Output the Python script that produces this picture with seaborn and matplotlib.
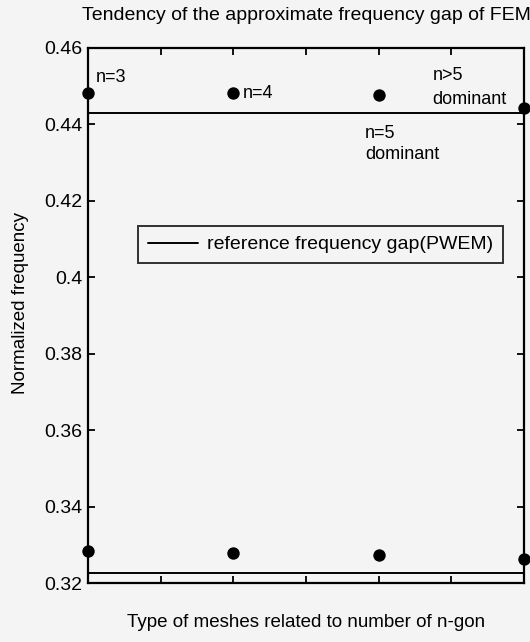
import matplotlib
matplotlib.use("Agg")
import matplotlib.pyplot as plt
import seaborn as sns
import pandas as pd

# Mesh types (n-gon count) and FEM gap edges
mesh_x = [3, 4, 5, 6]
mesh_names = ["n=3", "n=4", "n=5\ndominant", "n>5\ndominant"]
upper_edge = [0.4482, 0.4482, 0.4477, 0.4443]
lower_edge = [0.3284, 0.3278, 0.3273, 0.3263]

# Reference gap edges from PWEM
ref_upper = 0.4430
ref_lower = 0.3226

y_ticks = [0.32, 0.34, 0.36, 0.38, 0.40, 0.42, 0.44, 0.46]
y_tick_labels = ["0.32", "0.34", "0.36", "0.38", "0.4", "0.42", "0.44", "0.46"]
x_ticks = [3, 3.5, 4, 4.5, 5, 5.5, 6]

sns.set_style("ticks")
plt.rcParams["font.family"] = ["Liberation Sans", "DejaVu Sans"]
plt.rcParams.update({
    "text.color": "black",
    "axes.labelcolor": "black",
    "xtick.color": "black",
    "ytick.color": "black",
})

bg = "#f4f4f4"
fig = plt.figure(figsize=(5.30, 6.42), dpi=100, facecolor=bg)
ax = fig.add_axes([88 / 530, 1 - 583 / 642, (524 - 88) / 530, (583 - 48) / 642])
ax.set_facecolor(bg)

pts = pd.DataFrame({
    "x": mesh_x * 2,
    "y": upper_edge + lower_edge,
})
sns.scatterplot(data=pts, x="x", y="y", ax=ax, color="black", s=80,
                edgecolor="black", linewidth=0, clip_on=False, zorder=4,
                legend=False)

ref = pd.DataFrame({"x": [3, 6], "y": [ref_upper, ref_upper]})
sns.lineplot(data=ref, x="x", y="y", ax=ax, color="black", linewidth=1.4,
             label="reference frequency gap(PWEM)")
ref2 = pd.DataFrame({"x": [3, 6], "y": [ref_lower, ref_lower]})
sns.lineplot(data=ref2, x="x", y="y", ax=ax, color="black", linewidth=1.4)

# Labels for each mesh type
fs = 13
ax.text(3.055, 0.4524, mesh_names[0], fontsize=fs, va="center", ha="left")
ax.text(4.065, upper_edge[1], mesh_names[1], fontsize=fs, va="center", ha="left")
ax.text(4.905, 0.4349, mesh_names[2], fontsize=fs, va="center", ha="left",
        linespacing=1.35)
ax.text(5.37, 0.4497, mesh_names[3], fontsize=fs, va="center", ha="left",
        linespacing=1.55)

ax.set_xlim(3, 6)
ax.set_ylim(0.32, 0.46)
ax.set_xticks(x_ticks)
ax.set_xticklabels([])
ax.set_yticks(y_ticks)
ax.set_yticklabels(y_tick_labels, fontsize=14)
ax.tick_params(direction="in", length=5, width=1.3, top=True, right=True,
               color="black", pad=4)
for s in ax.spines.values():
    s.set_linewidth(1.6)
    s.set_color("black")
    s.set_visible(True)

ax.set_xlabel("Type of meshes related to number of n-gon", fontsize=13.5, labelpad=18)
ax.set_ylabel("Normalized frequency", fontsize=13.5)
ax.yaxis.set_label_coords(-0.135, 0.523)
ax.set_title("Tendency of the approximate frequency gap of FEM", fontsize=14, pad=20)

leg = ax.legend(loc="upper left", bbox_to_anchor=((138 - 88) / 436, 1 - (226 - 48) / 535),
                borderaxespad=0, fontsize=14, frameon=True, fancybox=False,
                handlelength=2.6, borderpad=0.5, handletextpad=0.45)
leg.get_frame().set_edgecolor("black")
leg.get_frame().set_linewidth(1.4)
leg.get_frame().set_facecolor(bg)

fig.savefig("out.png", dpi=100, facecolor=fig.get_facecolor())
